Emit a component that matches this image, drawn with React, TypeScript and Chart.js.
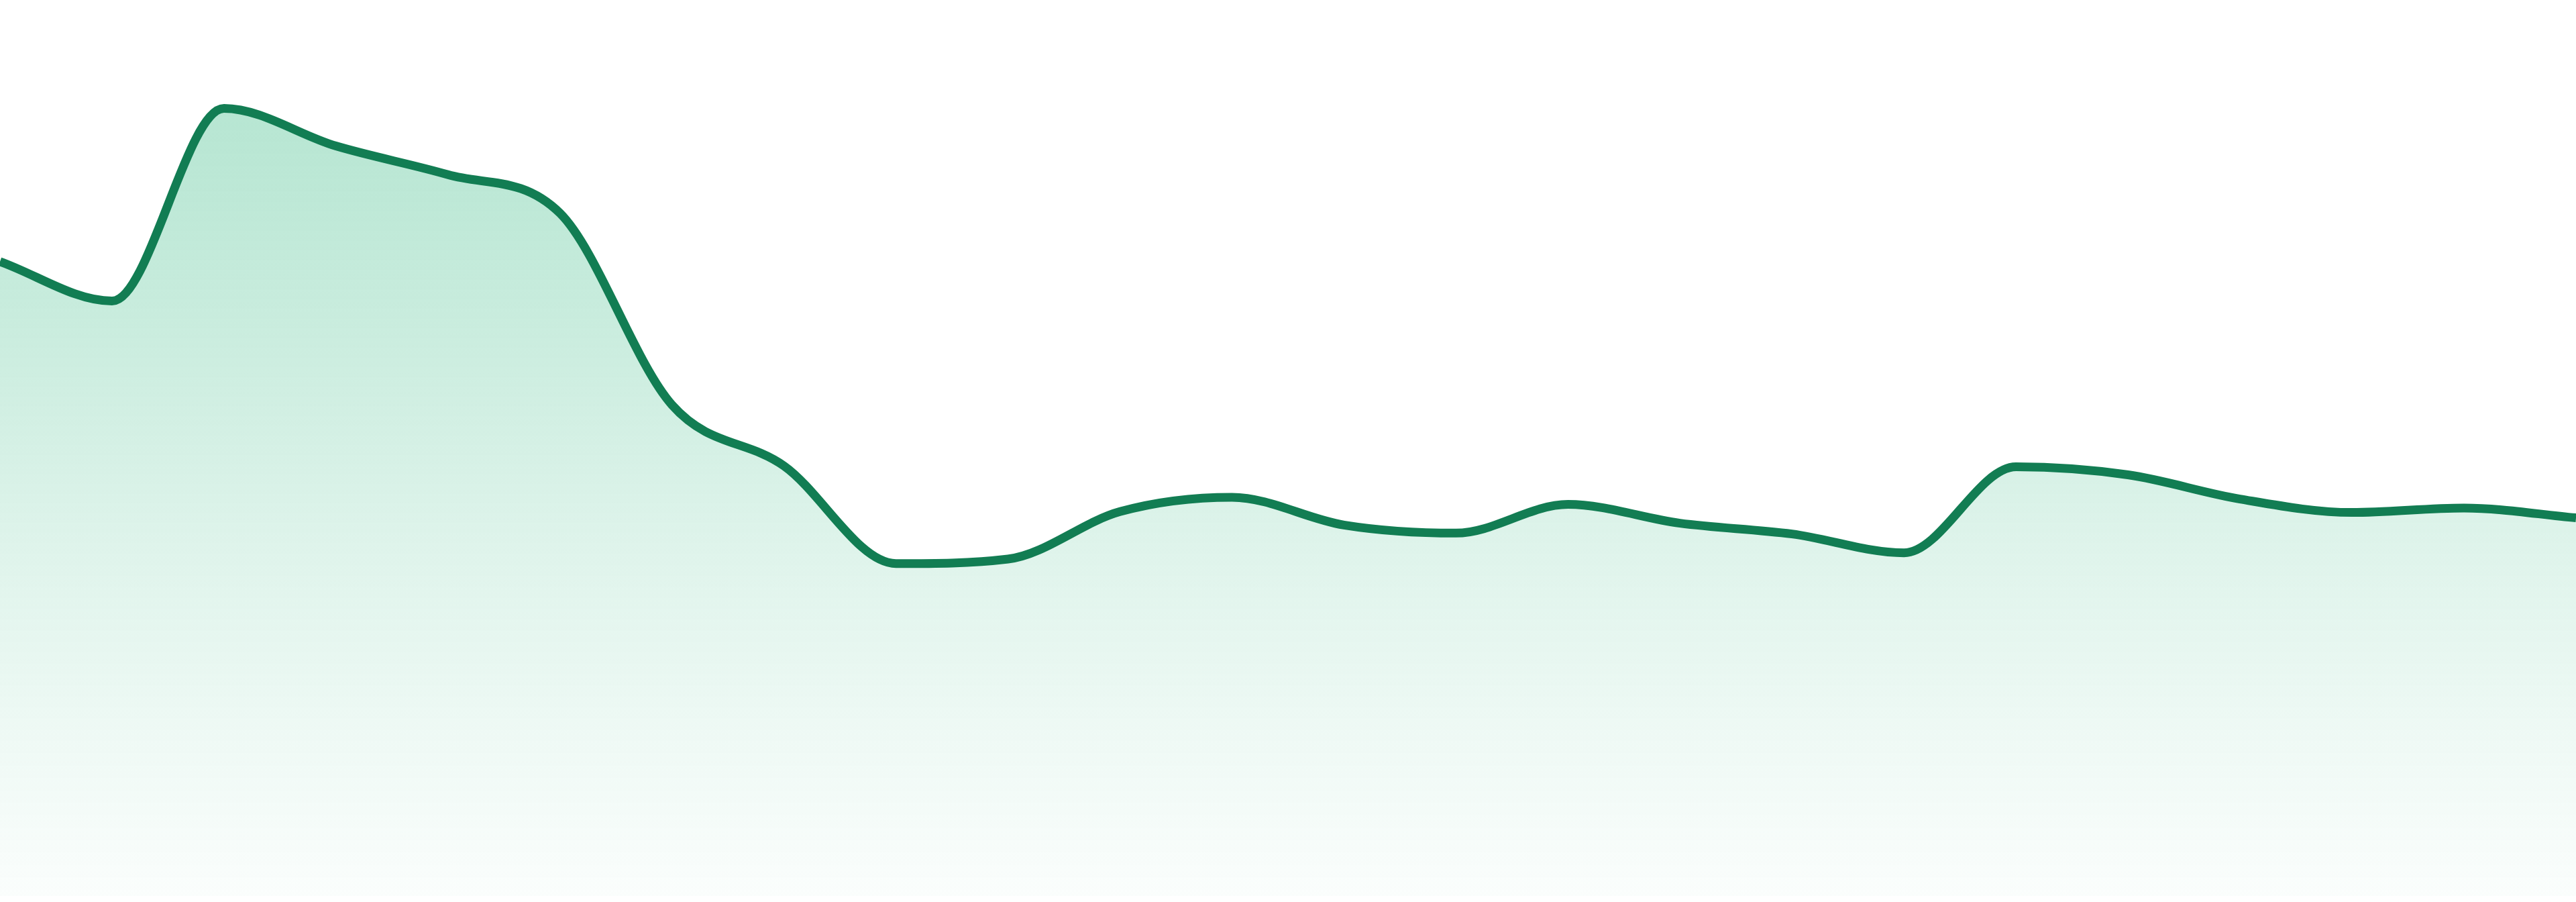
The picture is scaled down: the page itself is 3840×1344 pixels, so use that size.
import { useEffect, useRef } from "react";
import Chart from "chart.js/auto";

// hourly readings, 24 slots
const labels = [
  "00:00", "01:00", "02:00", "03:00", "04:00", "05:00",
  "06:00", "07:00", "08:00", "09:00", "10:00", "11:00",
  "12:00", "13:00", "14:00", "15:00", "16:00", "17:00",
  "18:00", "19:00", "20:00", "21:00", "22:00", "23:00",
];

const values = [
  70.8, 66.4, 87.9, 83.7, 80.5, 76.2,
  54.8, 48.0, 37.1, 37.6, 42.9, 44.5,
  41.4, 40.5, 43.7, 41.6, 40.4, 38.3,
  47.9, 47.0, 44.3, 42.8, 43.3, 42.2,
];

const yMin = 0;
const yMax = 100;

const lineColor = "#127d53";

export default function App() {
  const canvasRef = useRef<HTMLCanvasElement>(null);
  const chartRef = useRef<any>(null);

  useEffect(() => {
    document.body.style.margin = "0";
    if (!canvasRef.current) return;
    const ctx = canvasRef.current.getContext("2d");
    if (!ctx) return;
    if (chartRef.current) chartRef.current.destroy();

    chartRef.current = new Chart(ctx, {
      type: "line",
      data: {
        labels,
        datasets: [
          {
            data: values,
            borderColor: lineColor,
            borderWidth: 13,
            pointRadius: 0,
            cubicInterpolationMode: "monotone",
            fill: "start",
            backgroundColor: (c: any) => {
              const area = c.chart.chartArea;
              if (!area) return "rgba(19,173,109,0.2)";
              const g = c.chart.ctx.createLinearGradient(0, area.top, 0, area.bottom);
              g.addColorStop(0, "rgba(19,173,109,0.34)");
              g.addColorStop(0.22, "rgba(19,173,109,0.28)");
              g.addColorStop(0.6, "rgba(19,173,109,0.14)");
              g.addColorStop(0.82, "rgba(19,173,109,0.07)");
              g.addColorStop(1, "rgba(19,173,109,0.02)");
              return g;
            },
          },
        ],
      },
      options: {
        animation: false,
        responsive: true,
        maintainAspectRatio: false,
        layout: { padding: 0 },
        scales: {
          x: { display: false },
          y: { display: false, min: yMin, max: yMax },
        },
        plugins: {
          legend: { display: false },
          tooltip: { enabled: false },
        },
      },
    });

    return () => chartRef.current?.destroy();
  }, []);

  return (
    <div style={{ position: "relative", width: "3840px", height: "1335px" }}>
      <canvas ref={canvasRef} />
    </div>
  );
}
